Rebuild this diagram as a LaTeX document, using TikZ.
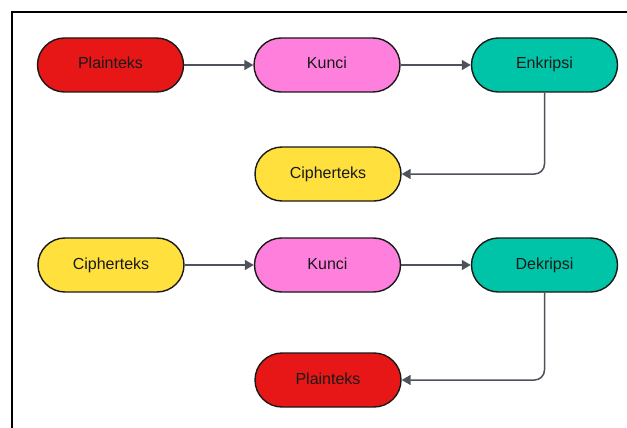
\documentclass[tikz,border=0pt]{standalone}
\usepackage{fontspec}
\setmainfont{Liberation Sans}
\usepackage{tikz}
\usetikzlibrary{arrows.meta}

\definecolor{plainred}{HTML}{E81717}
\definecolor{kuncipink}{HTML}{FF7FDC}
\definecolor{prosesteal}{HTML}{00C4A7}
\definecolor{cipheryellow}{HTML}{FFE03D}
\definecolor{panah}{HTML}{4D525B}

\tikzset{
	blok/.style={draw=black!90, line width=1.4pt, rounded corners=27pt,
		minimum width=146pt, minimum height=54pt, inner sep=0pt,
		text height=11.5pt, text depth=3.5pt,
		font=\fontsize{16}{19}\selectfont, text=black!90},
	alur/.style={draw=panah, line width=1.5pt, -{Triangle[length=9pt,width=10pt]}}
}

\begin{document}
\begin{tikzpicture}[x=1pt,y=-1pt]
	\useasboundingbox (0,0) rectangle (627,428);
	% bingkai
	\draw [line width=2.2pt] (12,428) -- (12,12) -- (627,12);
	% enkripsi
	\node [blok, fill=plainred] (plain1) at (110.5,65) {Plainteks};
	\node [blok, fill=kuncipink] (kunci1) at (327,65) {Kunci};
	\node [blok, fill=prosesteal] (enkripsi) at (544.5,65) {Enkripsi};
	\node [blok, fill=cipheryellow] (cipher1) at (328,174) {Cipherteks};
	% dekripsi
	\node [blok, fill=cipheryellow] (cipher2) at (111,265) {Cipherteks};
	\node [blok, fill=kuncipink] (kunci2) at (327.5,265) {Kunci};
	\node [blok, fill=prosesteal] (dekripsi) at (544.5,265) {Dekripsi};
	\node [blok, fill=plainred] (plain2) at (328,380) {Plainteks};
	% panah
	\draw [alur] (plain1) -- (kunci1);
	\draw [alur] (kunci1) -- (enkripsi);
	\draw [alur, rounded corners=10pt] (enkripsi.south) |- (cipher1.east);
	\draw [alur] (cipher2) -- (kunci2);
	\draw [alur] (kunci2) -- (dekripsi);
	\draw [alur, rounded corners=10pt] (dekripsi.south) |- (plain2.east);
\end{tikzpicture}
\end{document}
